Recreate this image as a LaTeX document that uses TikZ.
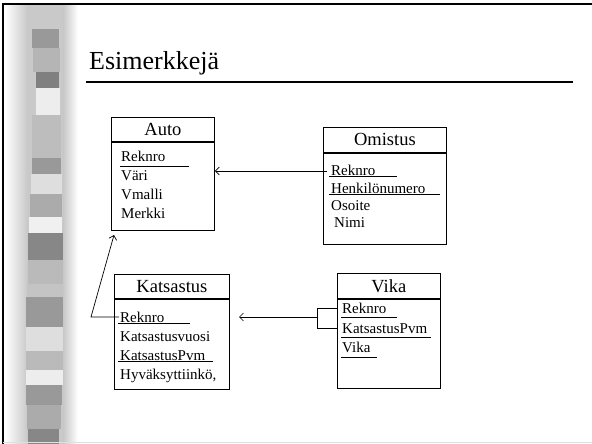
\documentclass[tikz,border=0pt]{standalone}
\usepackage{fontspec}
\setmainfont{Liberation Serif}
\usetikzlibrary{arrows.meta,calc}
\tikzset{
 boxline/.style={draw, line width=0.8pt},
 hdr/.style={boxline, inner sep=0pt, anchor=north west, font=\fontsize{18.5}{20}\selectfont},
 bodybox/.style={boxline, inner sep=0pt, anchor=north west},
 attr/.style={inner sep=0pt, anchor=base west, font=\fontsize{15}{17}\selectfont},
 uline/.style={line width=0.8pt},
 conn/.style={line width=0.7pt, -{Straight Barb[length=4pt,width=8pt]}},
 plainline/.style={line width=0.7pt},
}
\begin{document}
\begin{tikzpicture}[x=1pt,y=-1pt]
\useasboundingbox (0,0) rectangle (592,444);
\fill[white] (0,0) rectangle (592,444);
% decorative stripe
\shade[left color=white, right color=black!22] (5,4) rectangle (28,444);
\fill[black!21] (28,4) rectangle (63,444);
\shade[left color=black!22, right color=white] (63,4) rectangle (78,444);
\foreach \ya/\yb/\xa/\xb/\g in {
 29/48/32/59/40, 48/72/33/60/29, 72/88/36/59/50, 88/115/36/60/7,
 115/158/32/61/26, 158/174/32/61/40, 174/194/31/62/13, 194/217/30/62/33,
 217/233/29/62/6, 233/260/28/63/47, 260/284/28/63/27, 284/297/27/63/23,
 297/327/26/63/40, 327/351/26/63/13, 351/370/26/63/27, 370/385/26/63/7,
 385/405/26/62/40, 405/429/27/61/33, 429/444/28/59/47}
 {\fill[black!\g] (\xa,\ya) rectangle (\xb,\yb);}
% frame
\draw[line width=1.6pt] (3,444) -- (3,4) -- (592,4);
\draw[black!12, line width=1pt] (3,442.5) -- (592,442.5);
% title
\node[inner sep=0pt, anchor=base west, font=\fontsize{26}{30}\selectfont] (title) at (89,70) {Esimerkkejä};
\draw[line width=2pt] (86,82) -- (573,82);

% Auto
\node[hdr, minimum width=103pt, minimum height=24pt] (auto) at (111,117) {Auto};
\node[bodybox, minimum width=103pt, minimum height=88pt] (autob) at (auto.south west) {};
\node[attr] (autoa1) at (121,161) {Reknro};
\node[attr] (autoa2) at (121,180) {Väri};
\node[attr] (autoa3) at (121,199) {Vmalli};
\node[attr] (autoa4) at (121,218) {Merkki};
\draw[uline] ($(autoa1.base west)+(-1,5)$) -- ++(69,0);

% Omistus
\node[hdr, minimum width=123pt, minimum height=25pt] (omistus) at (323,127) {Omistus};
\node[bodybox, minimum width=123pt, minimum height=91pt] (omistusb) at (omistus.south west) {};
\node[attr] (oma1) at (331,175) {Reknro};
\node[attr] (oma2) at (331,193) {Henkilönumero};
\node[attr] (oma3) at (331,210) {Osoite};
\node[attr] (oma4) at (334,227) {Nimi};
\draw[uline] ($(oma1.base west)+(-2,1.5)$) -- ++(68,0);
\draw[uline] ($(oma2.base west)+(-2,1.5)$) -- ++(111,0);

% Katsastus
\node[hdr, minimum width=115pt, minimum height=24pt] (kats) at (114,274) {Katsastus};
\node[bodybox, minimum width=115pt, minimum height=90pt] (katsb) at (kats.south west) {};
\node[attr] (ka1) at (120,322) {Reknro};
\node[attr] (ka2) at (120,341) {Katsastusvuosi};
\node[attr] (ka3) at (120,360) {KatsastusPvm};
\node[attr] (ka4) at (120,379) {Hyväksyttiinkö,};
\draw[uline] ($(ka1.base west)+(-2,1.5)$) -- ++(72,0);
\draw[uline] ($(ka3.base west)+(-2,1.5)$) -- ++(95,0);

% Vika
\node[hdr, minimum width=103pt, minimum height=25pt] (vika) at (337,273) {Vika};
\node[bodybox, minimum width=103pt, minimum height=89pt] (vikab) at (vika.south west) {};
\node[attr] (va1) at (342,313) {Reknro};
\node[attr] (va2) at (342,333) {KatsastusPvm};
\node[attr] (va3) at (342,352) {Vika};
\draw[uline] ($(va1.base west)+(-1,4.5)$) -- ++(56,0);
\draw[uline] ($(va2.base west)+(-1,4.5)$) -- ++(90,0);
\draw[uline] ($(va3.base west)+(-1,5.5)$) -- ++(36,0);

% connectors
\coordinate (omr) at (327,171);
\draw[conn] (omr) -- (omr -| autob.east);

\coordinate (katr) at (119,317);
\coordinate (katl) at (91,317);
\coordinate (autotip) at (114,235);
\draw[conn] (katr) -- (katl) -- (autotip);

\coordinate (brt) at (317,308);
\coordinate (brb) at (317,328);
\draw[plainline] (brt -| vikab.west) -- (brt) -- (brb) -- (brb -| vikab.west);
\coordinate (brm) at (317,317);
\coordinate (kattip) at (239,317);
\draw[conn] (brm) -- (kattip);
\end{tikzpicture}
\end{document}
